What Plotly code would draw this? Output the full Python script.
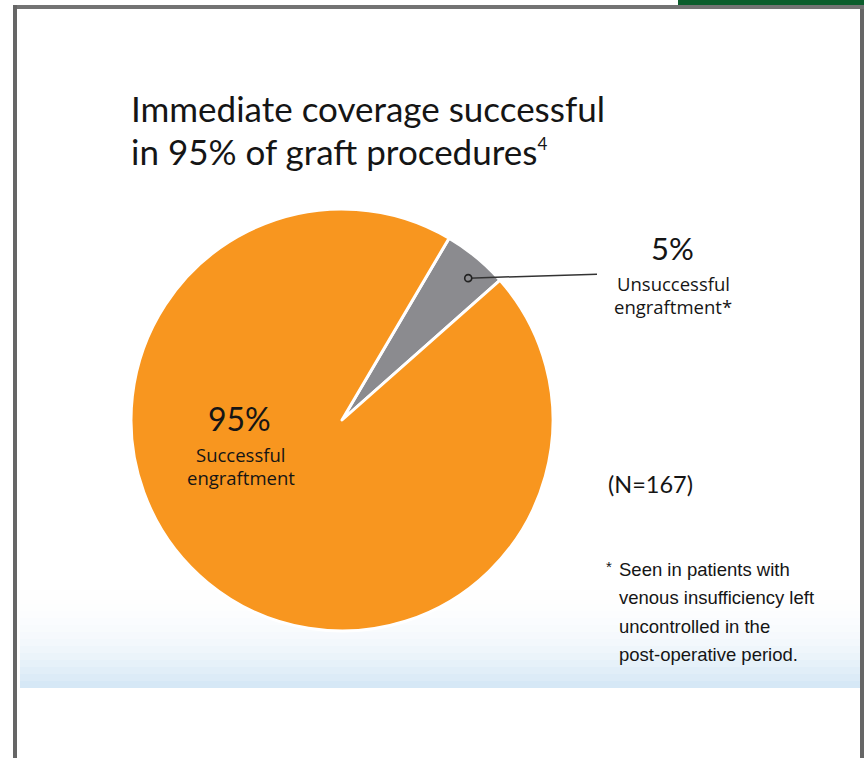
import math
import plotly.graph_objects as go

# ---- data ----
labels = ["Unsuccessful engraftment", "Successful engraftment"]
values = [5, 95]
colors = ["#8b8b8f", "#f8961f"]
pct_text = ["5%", "95%"]
sub_text = [["Unsuccessful", "engraftment*"], ["Successful", "engraftment"]]
title_lines = ["Immediate coverage successful",
               "in 95% of graft procedures<sup><span style='font-size:17px'>4</span></sup>"]
n_text = "(N=167)"
foot_lines = ["Seen in patients with", "venous insufficiency left",
              "uncontrolled in the", "post-operative period."]

W, H = 864, 758
CX, CY, R = 342, 420, 211
ROT = 30.5

fig = go.Figure()

fig.update_layout(
    xaxis=dict(range=[0, W], visible=False, fixedrange=True, domain=[0, 1]),
    yaxis=dict(range=[H, 0], visible=False, fixedrange=True, domain=[0, 1]),
)

# decorative background bands (faint blue gradient at the bottom of the slide)
shapes = []
y0, y1 = 590, 688
nb = 14
for i in range(nb):
    t = (i + 1) / nb
    k = t ** 2.2
    r = int(255 - (255 - 214) * k)
    g = int(255 - (255 - 232) * k)
    b = int(255 - (255 - 246) * k)
    shapes.append(dict(type="rect", xref="x", yref="y", layer="below",
                       x0=20, x1=W, y0=y0 + (y1 - y0) * i / nb,
                       y1=y0 + (y1 - y0) * (i + 1) / nb,
                       fillcolor=f"rgb({r},{g},{b})", line_width=0))
# frame
shapes += [
    dict(type="rect", xref="x", yref="y", x0=678, x1=W, y0=0, y1=5,
         fillcolor="#0b5d2c", line_width=0),
    dict(type="rect", xref="x", yref="y", x0=13, x1=W, y0=5, y1=9,
         fillcolor="#737373", line_width=0),
    dict(type="rect", xref="x", yref="y", x0=13, x1=17, y0=5, y1=H,
         fillcolor="#666666", line_width=0),
    dict(type="rect", xref="x", yref="y", x0=860, x1=W, y0=9, y1=H,
         fillcolor="#666666", line_width=0),
]

# pie
fig.add_trace(go.Pie(
    labels=labels, values=values, sort=False, direction="clockwise",
    rotation=ROT, textinfo="none", hoverinfo="label+percent",
    marker=dict(colors=colors, line=dict(color="white", width=3)),
    domain=dict(x=[(CX - R) / W, (CX + R) / W], y=[1 - (CY + R) / H, 1 - (CY - R) / H]),
    showlegend=False,
))

# leader from the small slice, position derived from its share
share = values[0] / sum(values)
mid = math.radians(ROT + 360 * share * 0.62)
dx = CX + 0.9 * R * math.sin(mid)
dy = CY - 0.9 * R * math.cos(mid)
shapes += [
    dict(type="line", xref="x", yref="y", layer="above", x0=dx, y0=dy, x1=597, y1=dy - 4,
         line=dict(color="#333333", width=1.5)),
    dict(type="circle", xref="x", yref="y", layer="above", x0=dx - 3.5, x1=dx + 3.5,
         y0=dy - 3.5, y1=dy + 3.5, fillcolor="#8b8b8f", line=dict(color="#222222", width=1.6)),
]

TXT = "#151515"
FONT = "Lato"
SUBF = "Open Sans"
ann = []
def A(x, y, text, size, xanchor="center", family=FONT, color=TXT):
    ann.append(dict(x=x, y=y, xref="x", yref="y", text=text, showarrow=False,
                    xanchor=xanchor, yanchor="middle", borderpad=0,
                    font=dict(family=family, size=size, color=color)))

A(130, 108, title_lines[0], 35, "left")
A(130, 151, title_lines[1], 35, "left")
A(672, 248, pct_text[0], 31)
A(673, 283, sub_text[0][0], 18.5, family=SUBF)
A(673, 306.5, sub_text[0][1], 18.5, family=SUBF)
A(239, 418, pct_text[1], 32)
A(240, 454, sub_text[1][0], 18.5, family=SUBF)
A(241, 477.5, sub_text[1][1], 18.5, family=SUBF)
A(607, 484, n_text, 23.5, "left")
A(605, 566, "*", 15, "left", "Liberation Sans")
for i, line in enumerate(foot_lines):
    A(618, 569 + 28.5 * i, line, 18.5, "left", "Liberation Sans")

fig.update_layout(
    width=W, height=H, margin=dict(l=0, r=0, t=0, b=0),
    paper_bgcolor="white", plot_bgcolor="white",
    shapes=shapes, annotations=ann,
)
fig.write_html("out.html")
